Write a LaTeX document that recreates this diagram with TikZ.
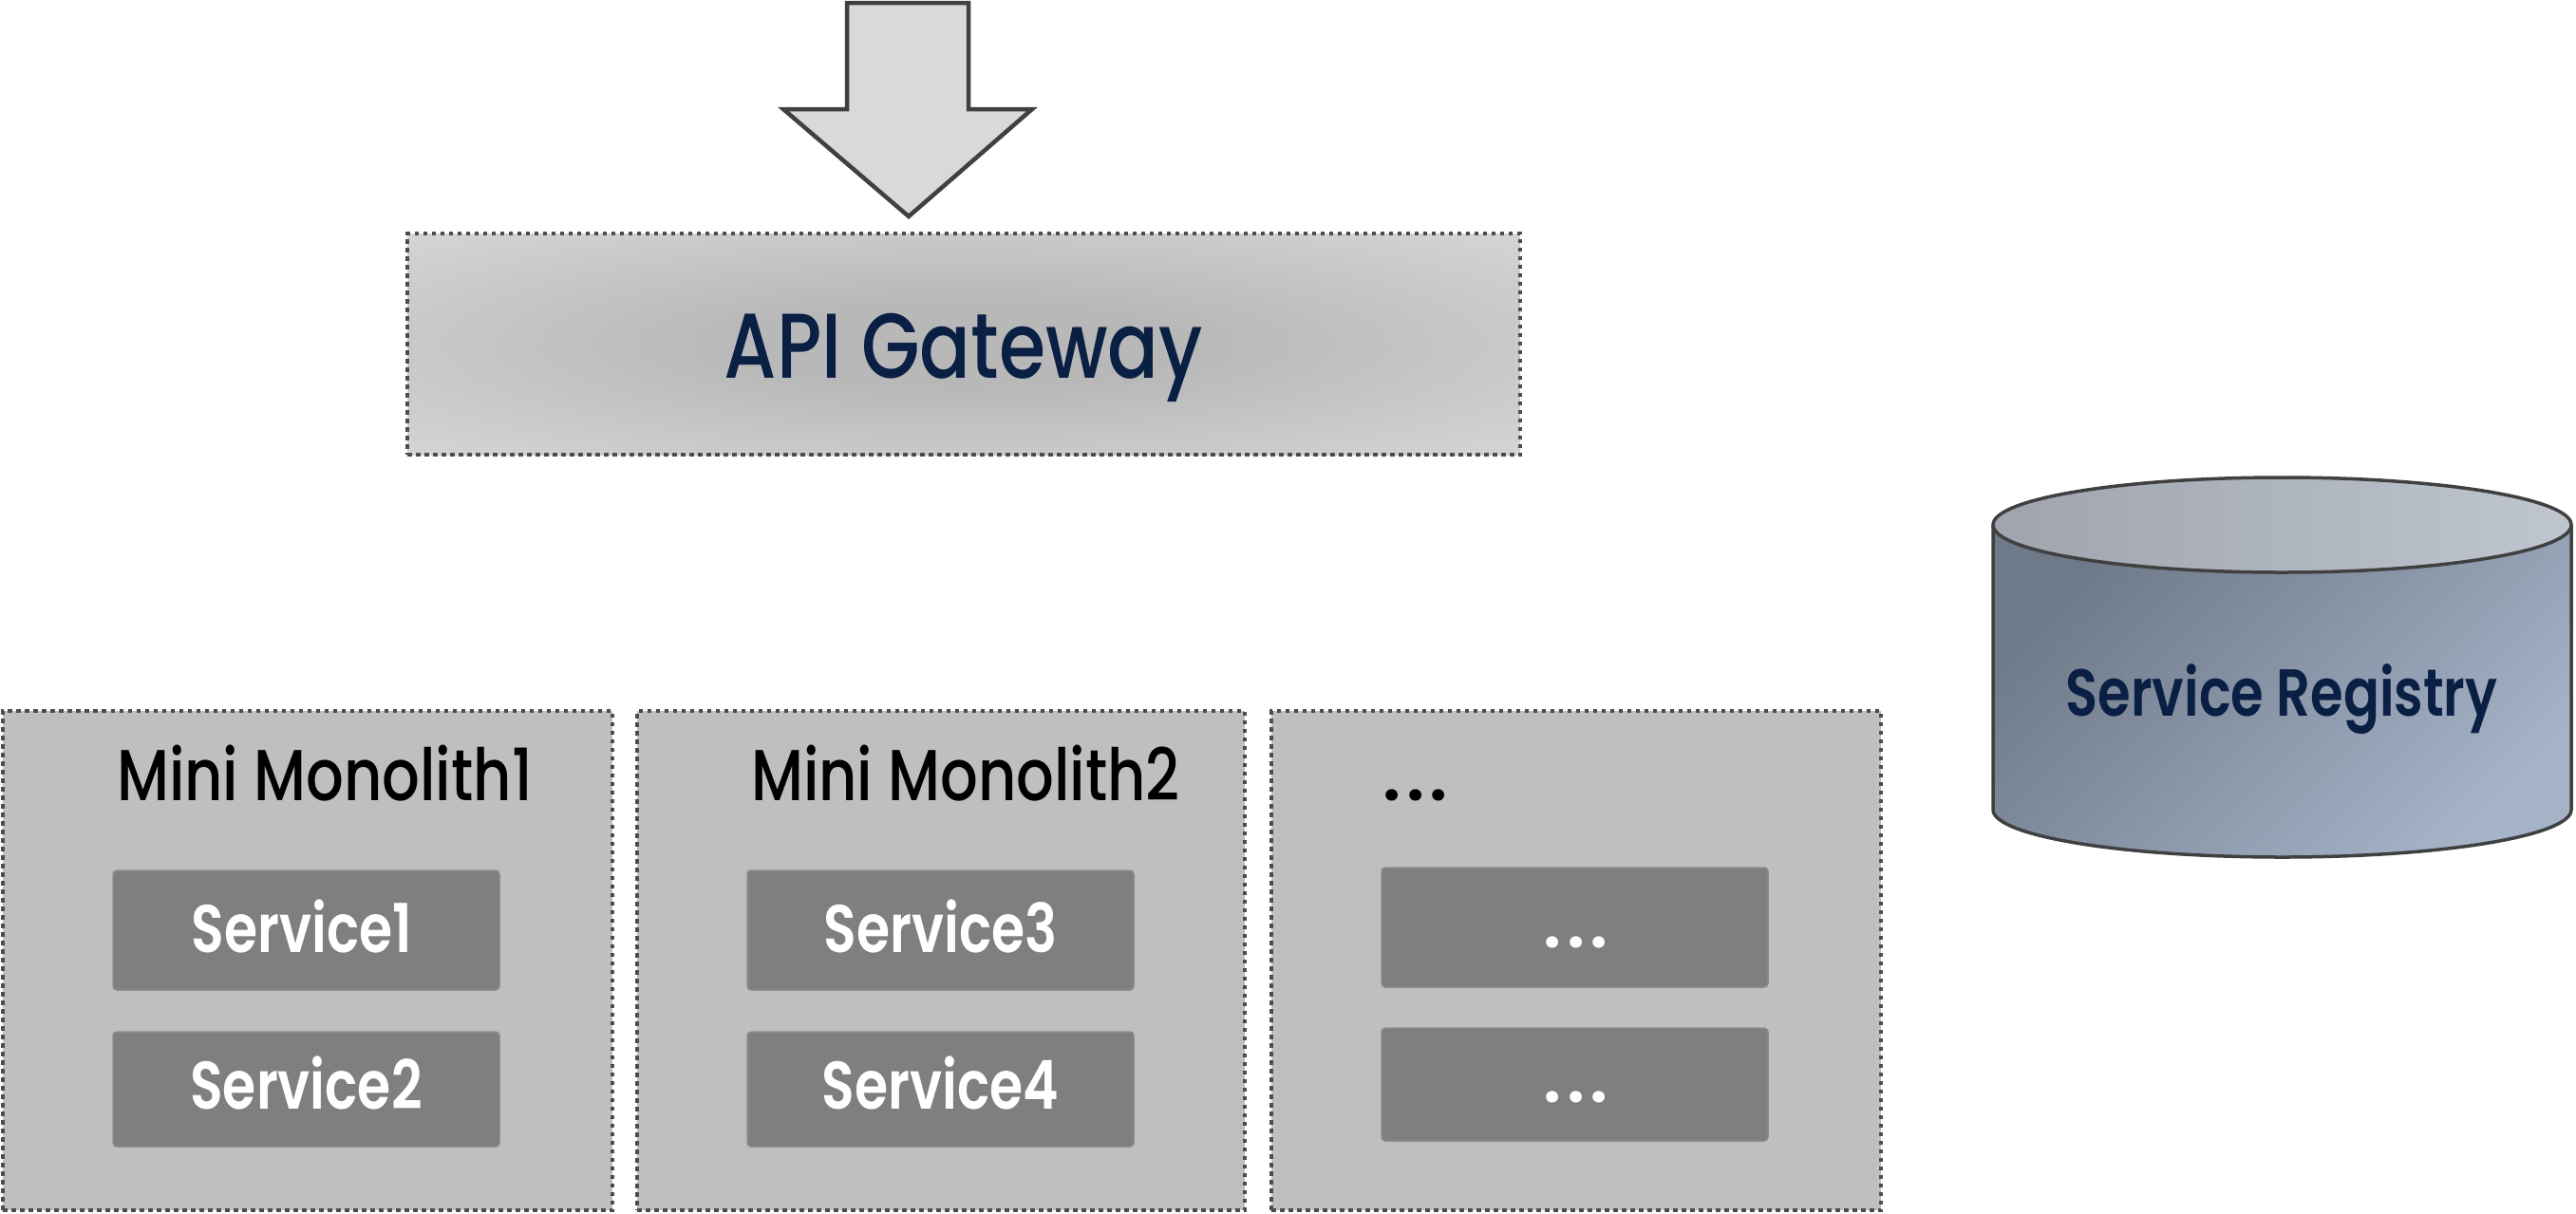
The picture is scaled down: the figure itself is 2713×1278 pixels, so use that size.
\documentclass[tikz,border=0pt]{standalone}
\usepackage{fontspec}
\setmainfont{Poppins Medium}[FakeStretch=0.82]
\newfontfamily\semifont{Poppins SemiBold}[FakeStretch=0.80]
\newfontfamily\dotfont{Poppins SemiBold}[LetterSpace=7]
\definecolor{navy}{HTML}{0A1F44}
\definecolor{arrowfill}{HTML}{D9D9D9}
\definecolor{edge}{HTML}{404040}
\definecolor{dotedge}{HTML}{4D4D4D}
\definecolor{monofill}{HTML}{BFBFBF}
\definecolor{svcfill}{HTML}{7F7F7F}
\definecolor{svcedge}{HTML}{8C8C8C}
\definecolor{gwin}{HTML}{B8B8B8}
\definecolor{gwout}{HTML}{E8E8E8}
\definecolor{cylA}{HTML}{6E7989}
\definecolor{cylB}{HTML}{A5B3C7}
\definecolor{topA}{HTML}{9FA4AD}
\definecolor{topB}{HTML}{BFC6CF}
\pgfdeclareradialshading{gwshade}{\pgfpoint{0bp}{0bp}}{color(0bp)=(gwin); color(10bp)=(gwin); color(52bp)=(gwout); color(75bp)=(gwout)}
\tikzset{
  dotborder/.style={draw=dotedge, line width=4pt, dash pattern=on 4.5pt off 4.5pt},
  gwbox/.style={dotborder, shading=gwshade, inner sep=0pt},
  monobox/.style={dotborder, fill=monofill, inner sep=0pt},
  svcbox/.style={fill=svcfill, draw=svcedge, line width=1.5pt, rounded corners=4pt, inner sep=0pt, minimum width=407pt},
  navytext/.style={text=navy, inner sep=0pt, anchor=base},
  titletext/.style={text=black, inner sep=0pt, anchor=base, font=\fontsize{76}{80}\selectfont},
  svctext/.style={text=white, inner sep=0pt, anchor=base, font=\semifont\fontsize{71}{80}\selectfont},
  dotstext/.style={inner sep=0pt, anchor=base, font=\dotfont\fontsize{74}{80}\selectfont},
}
\begin{document}
\begin{tikzpicture}[x=1pt,y=-1pt]
\useasboundingbox (0,0) rectangle (2713,1278);
\fill[white] (0,0) rectangle (2713,1278);

% input arrow
\draw[fill=arrowfill, draw=edge, line width=4.5pt, line join=miter]
  (892,3) -- (1020,3) -- (1020,115) -- (1087,115) -- (957,228) -- (825,115) -- (892,115) -- cycle;

% API gateway
\node[gwbox, minimum width=1172pt, minimum height=233pt] (gw) at (1015,362.5) {};
\node[navytext, font=\fontsize{97}{100}\selectfont] (gwt) at (1015,398) {API Gateway};

% mini monoliths
\node[monobox, minimum width=642pt, minimum height=526pt] (m1) at (324,1012) {};
\node[monobox, minimum width=640pt, minimum height=526pt] (m2) at (991,1012) {};
\node[monobox, minimum width=642pt, minimum height=526pt] (m3) at (1660,1012) {};

\node[titletext] (m1t) at (342,843) {Mini Monolith1};
\node[titletext] (m2t) at (1017,843) {Mini Monolith2};
\node[dotstext, text=black] (m3t) at (1491,843) {...};

% services
\node[svcbox, minimum height=126pt] (s1) at (322.5,980) {};
\node[svcbox, minimum height=121pt] (s2) at (322.5,1147.5) {};
\node[svcbox, minimum height=126pt] (s3) at (990.5,980) {};
\node[svcbox, minimum height=121pt] (s4) at (990.5,1147.5) {};
\node[svcbox, minimum height=126pt] (s5) at (1658.5,977) {};
\node[svcbox, minimum height=119pt] (s6) at (1658.5,1142.5) {};

\node[svctext] (s1t) at (318,1003) {Service1};
\node[svctext] (s2t) at (322.5,1168) {Service2};
\node[svctext] (s3t) at (990.5,1003) {Service3};
\node[svctext] (s4t) at (990.5,1168) {Service4};
\node[dotstext, text=white] (s5t) at (1660,998) {...};
\node[dotstext, text=white] (s6t) at (1660,1161) {...};

% service registry cylinder
\shade[top color=cylA, bottom color=cylB, shading angle=45]
  (2099,553) -- (2099,853) arc[start angle=180, end angle=0, x radius=304.5, y radius=50]
  -- (2708,553) arc[start angle=0, end angle=180, x radius=304.5, y radius=50] -- cycle;
\shade[left color=topA, right color=topB] (2403.5,553) ellipse[x radius=304.5, y radius=50];
\draw[edge, line width=3.5pt]
  (2099,553) -- (2099,853) arc[start angle=180, end angle=0, x radius=304.5, y radius=50]
  -- (2708,553);
\draw[edge, line width=3.5pt] (2403.5,553) ellipse[x radius=304.5, y radius=50];
\node[navytext, font=\semifont\fontsize{70}{76}\selectfont] (reg) at (2403,754) {Service Registry};
\end{tikzpicture}
\end{document}
